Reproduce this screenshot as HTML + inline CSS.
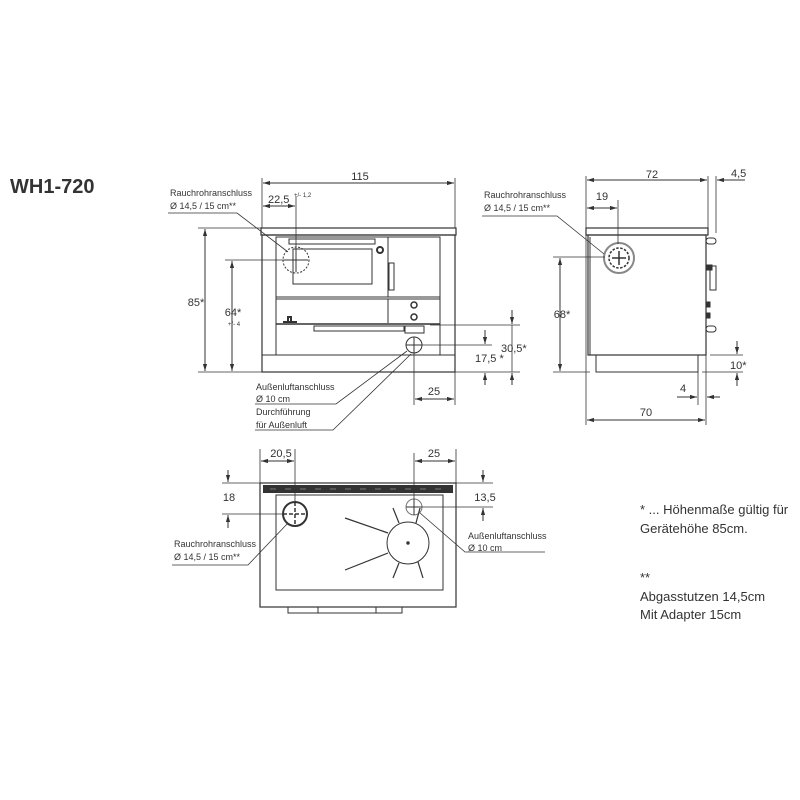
<!DOCTYPE html>
<html><head><meta charset="utf-8"><style>
html,body{margin:0;padding:0;background:#fff;width:800px;height:800px;overflow:hidden}
svg{display:block}
text{font-family:"Liberation Sans",sans-serif;fill:#333}
.s{font-size:9px}
.d{font-size:11px}
.n{font-size:13px}
</style></head><body>
<svg width="800" height="800" viewBox="0 0 800 800" xmlns="http://www.w3.org/2000/svg">
<defs>
<marker id="a" viewBox="0 0 10 10" refX="10" refY="5" markerWidth="7" markerHeight="7" orient="auto-start-reverse"><path d="M0,2 L10,5 L0,8 z" fill="#333"/></marker>
</defs>
<text x="10" y="193" style="font-size:20px;font-weight:bold" fill="#333">WH1-720</text>

<g stroke="#333" fill="none" stroke-width="1">
<!-- FRONT VIEW -->
<rect x="261" y="228" width="195" height="7" stroke-width="1.2"/>
<rect x="262" y="235" width="193" height="137" stroke-width="1.2"/>
<line x1="262" y1="355" x2="455" y2="355"/>
<rect x="276" y="237" width="164" height="118"/>
<rect x="276" y="237" width="112" height="60"/>
<rect x="289" y="239" width="86" height="5"/>
<rect x="293" y="249" width="79" height="35"/>
<circle cx="380" cy="250" r="3" stroke-width="2"/>
<rect x="388" y="237" width="52" height="60"/>
<rect x="389" y="263" width="5" height="27"/>
<line x1="276" y1="299" x2="440" y2="299"/>
<line x1="388" y1="299" x2="388" y2="323"/>
<circle cx="414" cy="305" r="3" stroke-width="1.5"/>
<circle cx="414" cy="317" r="3" stroke-width="1.5"/>
<line x1="276" y1="324" x2="440" y2="324" stroke-width="1.5"/>
<rect x="314" y="326" width="90" height="5"/>
<rect x="405" y="326" width="19" height="7"/>
<path d="M283 322 h14 M288 322 v-5 h3 v5" stroke-width="2"/>
<circle cx="414" cy="345" r="8"/>
<line x1="406" y1="345" x2="422" y2="345"/><line x1="414" y1="337" x2="414" y2="353"/>
<circle cx="296" cy="260" r="13" stroke-dasharray="2,1.5"/>
<line x1="284" y1="260" x2="308" y2="260"/><line x1="296" y1="248" x2="296" y2="272"/>

<!-- dims front -->
<line x1="262" y1="178" x2="262" y2="228" stroke-width="0.8"/>
<line x1="455" y1="178" x2="455" y2="228" stroke-width="0.8"/>
<line x1="263" y1="183" x2="454" y2="183" marker-start="url(#a)" marker-end="url(#a)"/>
<line x1="263" y1="206" x2="295" y2="206" marker-start="url(#a)" marker-end="url(#a)"/>
<line x1="296" y1="196" x2="296" y2="248" stroke-width="0.8"/>
<line x1="198" y1="228" x2="261" y2="228" stroke-width="0.8"/>
<line x1="198" y1="372" x2="262" y2="372" stroke-width="0.8"/>
<line x1="205" y1="229" x2="205" y2="371" marker-start="url(#a)" marker-end="url(#a)"/>
<line x1="225" y1="260" x2="284" y2="260" stroke-width="0.8"/>
<line x1="232" y1="261" x2="232" y2="371" marker-start="url(#a)" marker-end="url(#a)"/>
<line x1="430" y1="325" x2="520" y2="325" stroke-width="0.8"/>
<line x1="422" y1="345" x2="492" y2="345" stroke-width="0.8"/>
<line x1="455" y1="372" x2="520" y2="372" stroke-width="0.8"/>
<line x1="512" y1="310" x2="512" y2="324" marker-end="url(#a)"/>
<line x1="512" y1="385" x2="512" y2="373" marker-end="url(#a)"/>
<line x1="512" y1="325" x2="512" y2="372" stroke-width="0.8"/>
<line x1="485" y1="330" x2="485" y2="344" marker-end="url(#a)"/>
<line x1="485" y1="385" x2="485" y2="373" marker-end="url(#a)"/>
<line x1="414" y1="353" x2="414" y2="405" stroke-width="0.8"/>
<line x1="455" y1="372" x2="455" y2="405" stroke-width="0.8"/>
<line x1="415" y1="399" x2="454" y2="399" marker-start="url(#a)" marker-end="url(#a)"/>
<polyline points="168,213 237,213 288,252" stroke-width="0.8"/>
<polyline points="255,404 336,404 407,351" stroke-width="0.8"/>
<polyline points="255,430 333,430 411,354" stroke-width="0.8"/>

<!-- SIDE VIEW -->
<rect x="586" y="228" width="122" height="7" stroke-width="1.2"/>
<rect x="588" y="235" width="118" height="120" stroke-width="1.2"/>
<line x1="590" y1="237" x2="590" y2="355"/>
<rect x="596" y="355" width="102" height="17"/>
<circle cx="619" cy="258" r="15" stroke="#888" stroke-width="2"/>
<circle cx="619" cy="258" r="10" stroke-dasharray="2.5,1.5" stroke-width="1.5"/>
<line x1="612" y1="258" x2="626" y2="258" stroke-width="1.5"/><line x1="619" y1="251" x2="619" y2="265" stroke-width="1.5"/>
<rect x="706" y="238" width="10" height="6" rx="3"/>
<rect x="707" y="265" width="5" height="5" fill="#333"/>
<rect x="710" y="266" width="6" height="24"/>
<rect x="706" y="302" width="4" height="5" fill="#333"/>
<rect x="706" y="313" width="4" height="5" fill="#333"/>
<rect x="706" y="326" width="10" height="6" rx="3"/>
<line x1="586" y1="176" x2="586" y2="228" stroke-width="0.8"/>
<line x1="708" y1="176" x2="708" y2="228" stroke-width="0.8"/>
<line x1="716" y1="176" x2="716" y2="233" stroke-width="0.8"/>
<line x1="587" y1="180" x2="707" y2="180" marker-start="url(#a)" marker-end="url(#a)"/>
<line x1="745" y1="180" x2="717" y2="180" marker-end="url(#a)"/>
<line x1="587" y1="208" x2="617" y2="208" marker-start="url(#a)" marker-end="url(#a)"/>
<line x1="618" y1="200" x2="618" y2="244" stroke-width="0.8"/>
<polyline points="482,216 557,216 604,254" stroke-width="0.8"/>
<line x1="553" y1="257" x2="605" y2="257" stroke-width="0.8"/>
<line x1="553" y1="372" x2="590" y2="372" stroke-width="0.8"/>
<line x1="560" y1="258" x2="560" y2="371" marker-start="url(#a)" marker-end="url(#a)"/>
<line x1="710" y1="355" x2="743" y2="355" stroke-width="0.8"/>
<line x1="702" y1="372" x2="743" y2="372" stroke-width="0.8"/>
<line x1="737" y1="341" x2="737" y2="354" marker-end="url(#a)"/>
<line x1="737" y1="386" x2="737" y2="373" marker-end="url(#a)"/>
<line x1="698" y1="372" x2="698" y2="405" stroke-width="0.8"/>
<line x1="706" y1="355" x2="706" y2="425" stroke-width="0.8"/>
<line x1="586" y1="235" x2="586" y2="425" stroke-width="0.8"/>
<line x1="677" y1="397" x2="697" y2="397" marker-end="url(#a)"/>
<line x1="720" y1="397" x2="707" y2="397" marker-end="url(#a)"/>
<line x1="587" y1="420" x2="705" y2="420" marker-start="url(#a)" marker-end="url(#a)"/>

<!-- TOP VIEW -->
<rect x="260" y="483" width="196" height="124" stroke-width="1.2"/>
<rect x="263" y="485" width="190" height="8" fill="#333" stroke="none"/>
<g stroke="#777" stroke-width="1"><path d="M270 489h6M285 489h6M300 489h6M315 489h6M330 489h6M345 489h6M360 489h6M375 489h6M390 489h6M405 489h6M420 489h6M435 489h6"/></g>
<rect x="276" y="495" width="167" height="95"/>
<rect x="288" y="607" width="114" height="6"/>
<line x1="318" y1="607" x2="318" y2="613"/><line x1="376" y1="607" x2="376" y2="613"/>
<circle cx="295" cy="514" r="12" stroke-width="2"/>
<line x1="283" y1="514" x2="307" y2="514" stroke-width="1.5" stroke-dasharray="4,2"/><line x1="295" y1="502" x2="295" y2="526" stroke-width="1.5" stroke-dasharray="4,2"/>
<circle cx="414" cy="507" r="8" stroke="#777"/>
<line x1="406" y1="507" x2="422" y2="507"/><line x1="414" y1="499" x2="414" y2="515"/>
<circle cx="408" cy="543" r="21"/>
<circle cx="408" cy="543" r="1.2" fill="#333"/>
<g stroke-width="1.2">
<line x1="345" y1="518" x2="388" y2="533"/>
<line x1="345" y1="570" x2="388" y2="553"/>
<line x1="393" y1="508" x2="399" y2="523"/>
<line x1="420" y1="508" x2="416" y2="523"/>
<line x1="399" y1="563" x2="393" y2="578"/>
<line x1="418" y1="562" x2="423" y2="578"/>
</g>
<line x1="260" y1="449" x2="260" y2="483" stroke-width="0.8"/>
<line x1="295" y1="449" x2="295" y2="502" stroke-width="0.8"/>
<line x1="261" y1="461" x2="294" y2="461" marker-start="url(#a)" marker-end="url(#a)"/>
<line x1="414" y1="453" x2="414" y2="499" stroke-width="0.8"/>
<line x1="456" y1="449" x2="456" y2="483" stroke-width="0.8"/>
<line x1="415" y1="461" x2="455" y2="461" marker-start="url(#a)" marker-end="url(#a)"/>
<line x1="222" y1="483" x2="260" y2="483" stroke-width="0.8"/>
<line x1="222" y1="514" x2="283" y2="514" stroke-width="0.8"/>
<line x1="228" y1="470" x2="228" y2="482" marker-end="url(#a)"/>
<line x1="228" y1="528" x2="228" y2="515" marker-end="url(#a)"/>
<line x1="456" y1="483" x2="493" y2="483" stroke-width="0.8"/>
<line x1="422" y1="507" x2="493" y2="507" stroke-width="0.8"/>
<line x1="483" y1="470" x2="483" y2="482" marker-end="url(#a)"/>
<line x1="483" y1="521" x2="483" y2="508" marker-end="url(#a)"/>
<polyline points="172,565 248,565 288,523" stroke-width="0.8"/>
<polyline points="545,552 465,552 420,513" stroke-width="0.8"/>
</g>

<!-- texts -->
<text x="170" y="196" class="s">Rauchrohranschluss</text>
<text x="170" y="209" class="s">Ø 14,5 / 15 cm**</text>
<text x="360" y="180" class="d" text-anchor="middle">115</text>
<text x="268" y="203" class="d">22,5</text>
<text x="294" y="197" style="font-size:6px">+/- 1,2</text>
<text x="196" y="306" class="d" text-anchor="middle">85*</text>
<text x="233" y="316" class="d" text-anchor="middle">64*</text>
<text x="234" y="326" style="font-size:6px" text-anchor="middle">+/- 4</text>
<text x="501" y="352" class="d">30,5*</text>
<text x="475" y="362" class="d">17,5 *</text>
<text x="434" y="395" class="d" text-anchor="middle">25</text>
<text x="256" y="390" class="s">Außenluftanschluss</text>
<text x="256" y="402" class="s">Ø 10 cm</text>
<text x="256" y="415" class="s">Durchführung</text>
<text x="256" y="428" class="s">für Außenluft</text>

<text x="484" y="198" class="s">Rauchrohranschluss</text>
<text x="484" y="211" class="s">Ø 14,5 / 15 cm**</text>
<text x="652" y="178" class="d" text-anchor="middle">72</text>
<text x="731" y="177" class="d">4,5</text>
<text x="602" y="200" class="d" text-anchor="middle">19</text>
<text x="562" y="318" class="d" text-anchor="middle">68*</text>
<text x="730" y="369" class="d">10*</text>
<text x="683" y="392" class="d" text-anchor="middle">4</text>
<text x="646" y="416" class="d" text-anchor="middle">70</text>

<text x="281" y="457" class="d" text-anchor="middle">20,5</text>
<text x="434" y="457" class="d" text-anchor="middle">25</text>
<text x="229" y="501" class="d" text-anchor="middle">18</text>
<text x="485" y="501" class="d" text-anchor="middle">13,5</text>
<text x="174" y="547" class="s">Rauchrohranschluss</text>
<text x="174" y="560" class="s">Ø 14,5 / 15 cm**</text>
<text x="468" y="539" class="s">Außenluftanschluss</text>
<text x="468" y="551" class="s">Ø 10 cm</text>

<text x="640" y="514" class="n">* ... Höhenmaße gültig für</text>
<text x="640" y="533" class="n">Gerätehöhe 85cm.</text>
<text x="640" y="582" class="n">**</text>
<text x="640" y="601" class="n">Abgasstutzen 14,5cm</text>
<text x="640" y="619" class="n">Mit Adapter 15cm</text>
</svg>
</body></html>
